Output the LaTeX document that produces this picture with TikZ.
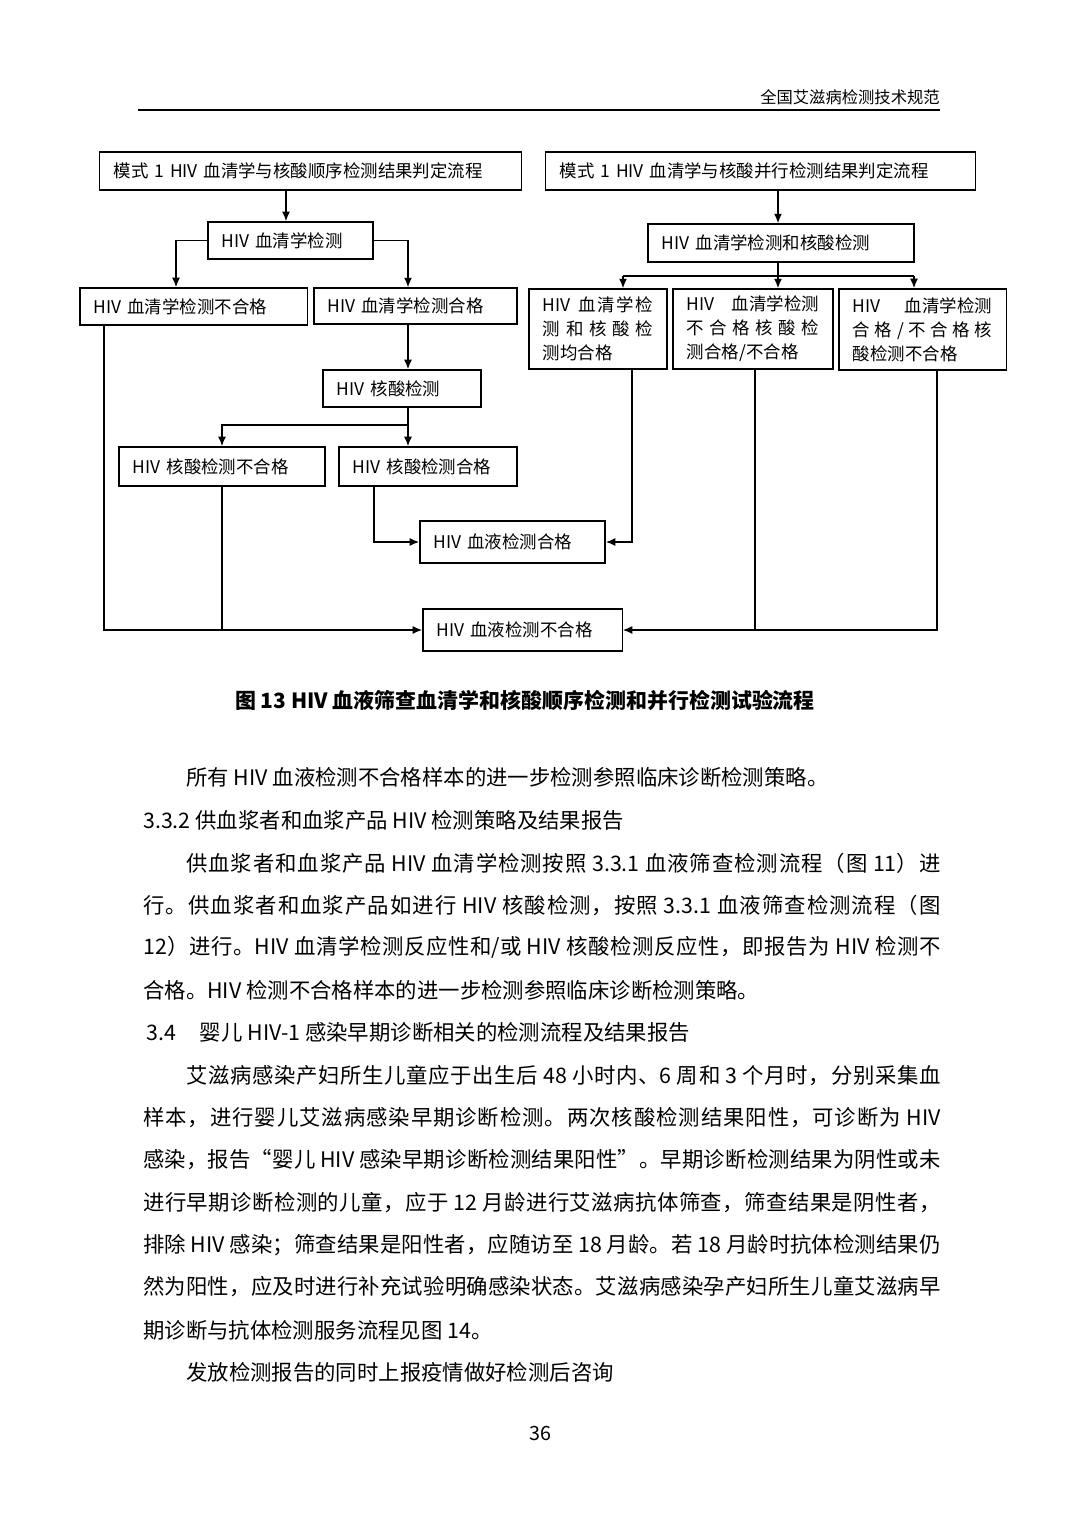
\documentclass[tikz,border=0pt]{standalone}
\usepackage{fontspec}
\setmainfont{Noto Sans CJK SC}
\usetikzlibrary{arrows.meta,calc,positioning}
% stretchable glue between Chinese characters, for the justified lines
\newcount\cjkchar
\cjkchar="4E00
\loop\XeTeXcharclass\cjkchar=1 \advance\cjkchar by 1 \ifnum\cjkchar<"A000 \repeat
\cjkchar="3000
\loop\XeTeXcharclass\cjkchar=1 \advance\cjkchar by 1 \ifnum\cjkchar<"3040 \repeat
\cjkchar="FF00
\loop\XeTeXcharclass\cjkchar=1 \advance\cjkchar by 1 \ifnum\cjkchar<"FF66 \repeat
\XeTeXcharclass"201C=1 \XeTeXcharclass"201D=1
\XeTeXinterchartokenstate=1
\XeTeXinterchartoks 1 1 = {\hskip 0pt plus 2pt}
\newcommand{\boxfont}{\fontsize{12.4pt}{17pt}\selectfont}
\newcommand{\bodyfont}{\fontsize{15.2pt}{20pt}\selectfont}
\newcommand{\headfont}{\fontsize{11.6pt}{14pt}\selectfont}
\newcommand{\fullline}[1]{\makebox[19.93cm][s]{#1}}
\newcommand{\indentline}[1]{\makebox[18.85cm][s]{#1}}
\tikzset{
  flowarr/.style={-{Latex[length=2.4mm,width=2mm]},line width=1.1pt},
  flowline/.style={line width=1.1pt},
  stepbox/.style={draw=black,line width=0.9pt,inner xsep=0.35cm,inner ysep=0pt,align=left,font=\boxfont},
  bodyline/.style={anchor=west,inner sep=0pt,font=\bodyfont}
}

\begin{document}
\begin{tikzpicture}[x=0.025cm,y=-0.025cm]
  \path[use as bounding box,fill=white] (0,0) rectangle (1080,1526);

  % running head
  \node[anchor=east,inner sep=0pt,font=\headfont] (hdr) at (940,97) {全国艾滋病检测技术规范};
  \draw[line width=1.3pt] (138,110) -- (940,110);

  % mode 1, sequential
  \node[stepbox,text width=9.83cm,minimum height=0.95cm] (ms1) at (310.5,171) {模式 1 HIV 血清学与核酸顺序检测结果判定流程};
  \node[stepbox,text width=3.43cm,minimum height=0.93cm] (sero) at (290.5,240.5) {HIV 血清学检测};
  \node[stepbox,text width=4.98cm,minimum height=0.93cm] (snf) at (193.5,306.5) {HIV 血清学检测不合格};
  \node[stepbox,text width=4.38cm,minimum height=0.9cm] (sok) at (415.5,306) {HIV 血清学检测合格};
  \node[stepbox,text width=3.25cm,minimum height=0.93cm] (nat) at (402,388.5) {HIV 核酸检测};
  \node[stepbox,text width=4.45cm,minimum height=0.98cm] (nnf) at (222,466.5) {HIV 核酸检测不合格};
  \node[stepbox,text width=3.75cm,minimum height=0.98cm] (nok) at (428,466.5) {HIV 核酸检测合格};

  % mode 1, parallel
  \node[stepbox,text width=10.03cm,minimum height=0.95cm] (mp1) at (760.5,171) {模式 1 HIV 血清学与核酸并行检测结果判定流程};
  \node[stepbox,text width=5.95cm,minimum height=0.95cm] (both) at (781,243) {HIV 血清学检测和核酸检测};
  \node[stepbox,text width=2.75cm,minimum height=2cm] (pa) at (598,329)
    {\makebox[2.75cm][s]{HIV\ \hfil 血\hfil 清\hfil 学\hfil 检}\\
     \makebox[2.75cm][s]{测\hfil 和\hfil 核\hfil 酸\hfil 检}\\
     测均合格};
  \node[stepbox,text width=3.3cm,minimum height=2cm] (pb) at (753,329)
    {\makebox[3.3cm][s]{HIV\hfill 血清学检测}\\
     \makebox[3.3cm][s]{不\hfil 合\hfil 格\hfil 核\hfil 酸\hfil 检}\\
     测合格/不合格};
  \node[stepbox,text width=3.48cm,minimum height=2.03cm] (pc) at (922.5,329.5)
    {\makebox[3.48cm][s]{HIV\hfill 血清学检测}\\
     \makebox[3.48cm][s]{合\hfil 格\hfil /\hfil 不\hfil 合\hfil 格\hfil 核}\\
     酸检测不合格};

  % outcomes
  \node[stepbox,text width=3.93cm,minimum height=1.05cm] (bok) at (512.5,542) {HIV 血液检测合格};
  \node[stepbox,text width=4.28cm,minimum height=1.05cm] (bnf) at (522.5,630) {HIV 血液检测不合格};

  % trunks
  \coordinate (sTrunk) at (286,0);
  \coordinate (nTrunk) at (408,0);
  \coordinate (lA) at (176,0);
  \coordinate (lB) at (104,0);
  \coordinate (lC) at (374,0);
  \coordinate (nSplit) at (408,425);
  \coordinate (pSplit) at (778,276);
  \coordinate (pL) at (623,276);
  \coordinate (pR) at (914,276);
  \coordinate (rA) at (632,0);
  \coordinate (rB) at (755,0);
  \coordinate (rC) at (937,0);

  \draw[flowarr] (sTrunk |- ms1.south) -- (sTrunk |- sero.north);
  \draw[flowarr] (sero.west) -| (lA |- snf.north);
  \draw[flowarr] (sero.east) -| (nTrunk |- sok.north);
  \draw[flowarr] (nTrunk |- sok.south) -- (nTrunk |- nat.north);
  \draw[flowline] (nTrunk |- nat.south) -- (nSplit);
  \draw[flowarr] (nSplit) -- (nTrunk |- nok.north);
  \draw[flowarr] (nSplit) -| (nnf.north);
  \draw[flowarr] (lB |- snf.south) |- (bnf.west);
  \draw[flowline] (nnf.south) -- (nnf.south |- bnf.west);
  \draw[flowarr] (lC |- nok.south) |- (bok.west);

  \draw[flowarr] (pSplit |- mp1.south) -- (pSplit |- both.north);
  \draw[flowline] (pSplit |- both.south) -- (pSplit);
  \draw[flowline] (pL) -- (pR);
  \foreach \c/\b in {pL/pa,pSplit/pb,pR/pc}
    \draw[flowarr] (\c) -- (\c |- \b.north);
  \draw[flowarr] (rA |- pa.south) |- (bok.east);
  \draw[flowline] (rB |- pb.south) -- (rB |- bnf.east);
  \draw[flowarr] (rC |- pc.south) |- (bnf.east);

  % caption
  \node[inner sep=0pt,font=\fontsize{14.9pt}{18pt}\selectfont\bfseries] (cap) at (525,700)
    {图 13 HIV 血液筛查血清学和核酸顺序检测和并行检测试验流程};

  % body text
  \node[bodyline] (b1) at (186,777) {所有 HIV 血液检测不合格样本的进一步检测参照临床诊断检测策略。};
  \node[bodyline] (b2) at (143,820) {3.3.2 供血浆者和血浆产品 HIV 检测策略及结果报告};
  \node[bodyline] (b3) at (186,863) {\indentline{供血浆者和血浆产品 HIV 血清学检测按照 3.3.1 血液筛查检测流程（图 11）进}};
  \node[bodyline] (b4) at (143,905) {\fullline{行。供血浆者和血浆产品如进行 HIV 核酸检测，按照 3.3.1 血液筛查检测流程（图}};
  \node[bodyline] (b5) at (143,947) {\fullline{12）进行。HIV 血清学检测反应性和/或 HIV 核酸检测反应性，即报告为 HIV 检测不}};
  \node[bodyline] (b6) at (143,990) {合格。HIV 检测不合格样本的进一步检测参照临床诊断检测策略。};
  \node[bodyline] (b7) at (146,1032) {3.4\hspace{0.6cm}婴儿 HIV-1 感染早期诊断相关的检测流程及结果报告};
  \node[bodyline] (b8) at (186,1076) {\indentline{艾滋病感染产妇所生儿童应于出生后 48 小时内、6 周和 3 个月时，分别采集血}};
  \node[bodyline] (b9) at (143,1118) {\fullline{样本，进行婴儿艾滋病感染早期诊断检测。两次核酸检测结果阳性，可诊断为 HIV}};
  \node[bodyline] (b10) at (143,1160) {\fullline{感染，报告“婴儿 HIV 感染早期诊断检测结果阳性”。早期诊断检测结果为阴性或未}};
  \node[bodyline] (b11) at (143,1203) {\fullline{进行早期诊断检测的儿童，应于 12 月龄进行艾滋病抗体筛查，筛查结果是阴性者，}};
  \node[bodyline] (b12) at (143,1245) {\fullline{排除 HIV 感染；筛查结果是阳性者，应随访至 18 月龄。若 18 月龄时抗体检测结果仍}};
  \node[bodyline] (b13) at (143,1287) {\fullline{然为阳性，应及时进行补充试验明确感染状态。艾滋病感染孕产妇所生儿童艾滋病早}};
  \node[bodyline] (b14) at (143,1330) {期诊断与抗体检测服务流程见图 14。};
  \node[bodyline] (b15) at (186,1372) {发放检测报告的同时上报疫情做好检测后咨询};

  \node[inner sep=0pt,font=\fontsize{14pt}{16pt}\selectfont] (pg) at (540,1433) {36};
\end{tikzpicture}
\end{document}
